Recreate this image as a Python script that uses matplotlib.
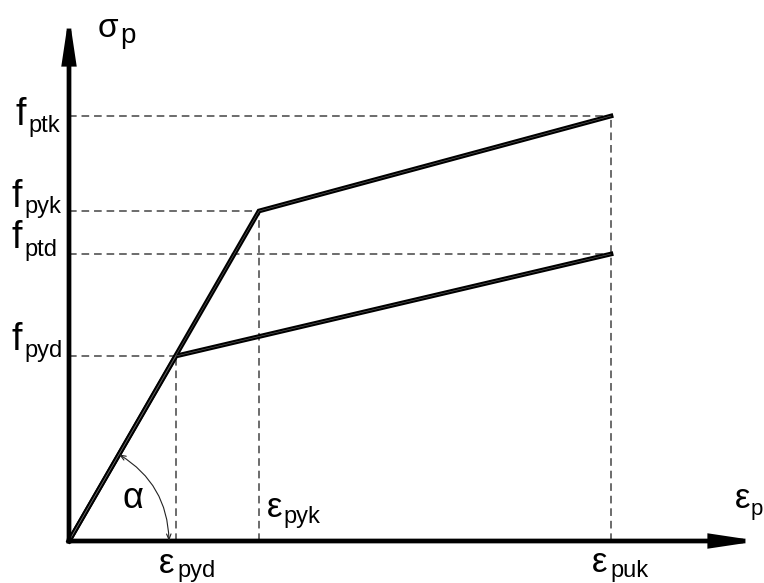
import numpy as np
import matplotlib
matplotlib.use("Agg")
import matplotlib.pyplot as plt
from matplotlib.patches import FancyArrowPatch

plt.rcParams['font.family'] = ['Liberation Sans', 'DejaVu Sans']

# ---- data (relative units) ----
eps_labels = ["pyd", "pyk", "puk"]
eps_pyd = 1.07
eps_pyk = 1.90
eps_puk = 5.42
f_pyd = 1.85
f_ptd = 2.87
f_pyk = 3.30
f_ptk = 4.25

# characteristic curve and design curve
char_x = [0.0, eps_pyk, eps_puk]
char_y = [0.0, f_pyk, f_ptk]
des_x = [0.0, eps_pyd, eps_puk]
des_y = [0.0, f_pyd, f_ptd]

x_axis_end = 6.90
y_axis_end = 5.26

fig = plt.figure(figsize=(7.64, 5.83), dpi=100)
ax = fig.add_axes([0, 0, 1, 1])
ax.set_xlim(-0.69, 6.95)
ax.set_ylim(-0.42, 5.41)
ax.axis('off')

def px(x):
    return (x - 69) / 100.0

def py(y):
    return (541 - y) / 100.0

dash = dict(color='#444444', lw=1.1, linestyle=(0, (5.0, 3.2)), zorder=1)
# horizontal dashed guides
ax.plot([0, eps_puk], [f_ptk, f_ptk], **dash)
ax.plot([0, eps_pyk], [f_pyk, f_pyk], **dash)
ax.plot([0, eps_puk], [f_ptd, f_ptd], **dash)
ax.plot([0, eps_pyd], [f_pyd, f_pyd], **dash)
# vertical dashed guides
ax.plot([eps_pyd, eps_pyd], [0, f_pyd], **dash)
ax.plot([eps_pyk, eps_pyk], [0, f_pyk], **dash)
ax.plot([eps_puk, eps_puk], [0, f_ptk], **dash)

# curves (thick black line with faint inner stripe)
for xs, ys in [(char_x, char_y), (des_x, des_y)]:
    ax.plot(xs, ys, color='black', lw=3.4, solid_joinstyle='miter', zorder=3)
    ax.plot(xs, ys, color='#6a6a6a', lw=0.4, zorder=4)

# axes with arrows
for tip in [(x_axis_end, 0.0), (0.0, y_axis_end)]:
    arr = FancyArrowPatch((0, 0), tip,
                          arrowstyle='-|>,head_length=24,head_width=3.6',
                          mutation_scale=1, lw=3.4, color='black',
                          shrinkA=0, shrinkB=0, capstyle='projecting',
                          joinstyle='miter', zorder=5)
    ax.add_patch(arr)

# angle arc alpha
ang = np.arctan2(f_pyd, eps_pyd)
r = 1.0
arc = FancyArrowPatch((r * np.cos(ang), r * np.sin(ang)), (r, 0),
                      connectionstyle='arc3,rad=-0.27',
                      arrowstyle='<->,head_length=4,head_width=1.6',
                      mutation_scale=1, lw=0.8, color='#222222',
                      shrinkA=0, shrinkB=0, zorder=6)
ax.add_patch(arc)

def lab(main, mx, my, msize, sub, sx, sy, ssize):
    ax.text(px(mx), py(my), main, fontsize=msize, ha='left', va='baseline')
    ax.text(px(sx), py(sy), sub, fontsize=ssize, ha='left', va='baseline')

# y labels
lab('f', 15, 125, 27, 'ptk', 28, 132, 17)
lab('f', 11, 207, 27, 'pyk', 24, 213, 17)
lab('f', 11, 248, 27, 'ptd', 24, 256, 17)
lab('f', 11, 350, 27, 'pyd', 24, 357, 17)
lab('\u03c3', 98, 37, 24, 'p', 120, 43, 20)

# x labels
lab('\u03b5', 267, 517, 25, eps_labels[1], 283, 523, 17)
lab('\u03b5', 159, 573, 25, eps_labels[0], 177, 577, 17)
lab('\u03b5', 592, 572, 25, eps_labels[2], 610, 577, 17)
lab('\u03b5', 735, 508, 25, 'p', 751, 515, 16)

ax.text(px(122), py(508), '\u03b1', fontsize=26, ha='left', va='baseline')

fig.savefig('out.png', dpi=100)
